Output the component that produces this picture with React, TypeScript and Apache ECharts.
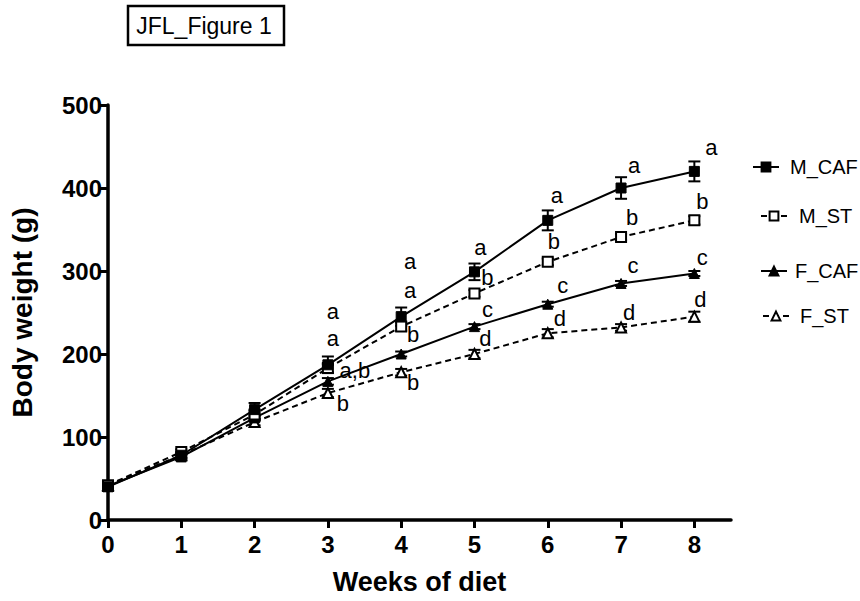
import React, { useEffect, useRef } from "react";
import * as echarts from "echarts";

const weeks = [0, 1, 2, 3, 4, 5, 6, 7, 8];
const yTicks = [0, 100, 200, 300, 400, 500];

const mCaf = [40, 78, 133, 187, 245, 299, 361, 400, 420];
const mSt = [42, 82, 127, 183, 233, 273, 311, 341, 361];
const fCaf = [41, 76, 123, 167, 200, 233, 260, 285, 297];
const fSt = [42, 78, 118, 153, 178, 200, 225, 232, 245];

const mCafSem = [5, 4, 8, 10, 11, 10, 12, 13, 12];
const mStSem = [3, 3, 5, 5, 5, 4, 4, 4, 5];
const fCafSem = [3, 3, 4, 4, 3, 3, 3, 3, 3];
const fStSem = [3, 3, 4, 5, 4, 5, 5, 4, 6];

const mCafLetters = ["", "", "", "a", "a", "a", "a", "a", "a"];
const mStLetters = ["", "", "", "a", "a", "b", "b", "b", "b"];
const fCafLetters = ["", "", "", "a,b", "b", "c", "c", "c", "c"];
const fStLetters = ["", "", "", "b", "b", "d", "d", "d", "d"];

const seriesNames = ["M_CAF", "M_ST", "F_CAF", "F_ST"];
const titleText = "JFL_Figure 1";
const xTitle = "Weeks of diet";
const yTitle = "Body weight (g)";

// label offsets (pixels) relative to each point – styling only
const mCafOff = [[0, 0], [0, 0], [0, 0], [5, -53], [9, -55], [6, -24], [9, -25], [13, -23], [17, -24]];
const mStOff = [[0, 0], [0, 0], [0, 0], [5, -30], [9, -36], [13, -16], [6, -20], [11, -19], [8, -19]];
const fCafOff = [[0, 0], [0, 0], [0, 0], [27, -11], [12, -20], [13, -17], [15, -19], [12, -18], [8, -16]];
const fStOff = [[0, 0], [0, 0], [0, 0], [15, 10], [12, 10], [11, -16], [12, -15], [8, -15], [6, -17]];

const FONT = "'Liberation Sans', Arial, Helvetica, sans-serif";

function lineSeries(
  name: string,
  vals: number[],
  letters: string[],
  offsets: number[][],
  symbol: string,
  filled: boolean,
  dashed: boolean
) {
  return {
    name,
    type: "line",
    z: 3,
    symbol,
    symbolSize: 10,
    showSymbol: true,
    lineStyle: { color: "#000", width: 2, type: dashed ? [6, 4] : "solid" },
    itemStyle: filled
      ? { color: "#000", borderColor: "#000", borderWidth: 1 }
      : { color: "#fff", borderColor: "#000", borderWidth: 2 },
    emphasis: { disabled: true },
    label: {
      show: true,
      position: "inside",
      color: "#000",
      fontFamily: FONT,
      fontSize: 22,
      formatter: (p: any) => letters[p.dataIndex],
    },
    data: weeks.map((w, i) => ({
      value: [w, vals[i]],
      label: { offset: offsets[i] },
    })),
  };
}

function errorSeries(vals: number[], sem: number[]) {
  return {
    type: "custom",
    z: 2,
    silent: true,
    renderItem: (params: any, api: any) => {
      const x = api.value(0);
      const y = api.value(1);
      const e = api.value(2);
      const top = api.coord([x, y + e]);
      const bot = api.coord([x, y - e]);
      const hw = 6;
      const st = { stroke: "#000", lineWidth: 2 };
      return {
        type: "group",
        children: [
          { type: "line", shape: { x1: top[0], y1: top[1], x2: bot[0], y2: bot[1] }, style: st },
          { type: "line", shape: { x1: top[0] - hw, y1: top[1], x2: top[0] + hw, y2: top[1] }, style: st },
          { type: "line", shape: { x1: bot[0] - hw, y1: bot[1], x2: bot[0] + hw, y2: bot[1] }, style: st },
        ],
      };
    },
    data: weeks.map((w, i) => [w, vals[i], sem[i]]),
  };
}

const legendTops = [152, 201, 256, 301];
const legendLefts = [747, 755, 755, 757];
const legendPad = [6, 7, 3, 6];

export default function App() {
  const ref = useRef<HTMLDivElement>(null);
  useEffect(() => {
    if (!ref.current) return;
    const chart = echarts.init(ref.current, null, { renderer: "svg" });
    chart.setOption({
      animation: false,
      backgroundColor: "#fff",
      textStyle: { fontFamily: FONT },
      grid: { left: 106, top: 105, width: 625, height: 415, containLabel: false },
      legend: seriesNames.map((n, i) => ({
        data: [n],
        left: legendLefts[i],
        top: legendTops[i],
        orient: "vertical",
        itemWidth: 26,
        itemHeight: 11,
        selectedMode: false,
        textStyle: { fontFamily: FONT, fontSize: 20, color: "#000", padding: [0, 0, 0, legendPad[i]] },
      })),
      graphic: [
        {
          type: "rect",
          shape: { x: 128, y: 6, width: 156, height: 39 },
          style: { fill: "#fff", stroke: "#000", lineWidth: 2.5 },
        },
        {
          type: "text",
          x: 204,
          y: 26,
          style: {
            text: titleText,
            font: `23px ${FONT}`,
            fill: "#000",
            align: "center",
            verticalAlign: "middle",
          },
        },
      ],
      xAxis: {
        type: "value",
        min: 0,
        max: 8.5,
        interval: 1,
        splitLine: { show: false },
        axisLine: { show: true, onZero: false, lineStyle: { color: "#000", width: 3.5 } },
        axisTick: { show: true, length: 8, lineStyle: { color: "#000", width: 3 }, customValues: weeks },
        axisLabel: {
          customValues: weeks,
          color: "#000",
          fontSize: 24,
          fontWeight: "bold",
          fontFamily: FONT,
          margin: 12,
        },
        name: xTitle,
        nameLocation: "middle",
        nameGap: 48,
        nameTextStyle: { color: "#000", fontSize: 27, fontWeight: "bold", fontFamily: FONT },
      },
      yAxis: {
        type: "value",
        min: 0,
        max: 500,
        interval: 100,
        splitLine: { show: false },
        axisLine: { show: true, onZero: false, lineStyle: { color: "#000", width: 3.5 } },
        axisTick: { show: true, length: 8, lineStyle: { color: "#000", width: 3 } },
        axisLabel: {
          color: "#000",
          fontSize: 24,
          fontWeight: "bold",
          fontFamily: FONT,
          margin: 6,
          formatter: (v: number) => (yTicks.includes(v) ? String(v) : ""),
        },
        name: yTitle,
        nameLocation: "middle",
        nameGap: 72,
        nameTextStyle: { color: "#000", fontSize: 28, fontWeight: "bold", fontFamily: FONT },
      },
      series: [
        errorSeries(mCaf, mCafSem),
        errorSeries(mSt, mStSem),
        errorSeries(fCaf, fCafSem),
        errorSeries(fSt, fStSem),
        lineSeries(seriesNames[3], fSt, fStLetters, fStOff, "triangle", false, true),
        lineSeries(seriesNames[2], fCaf, fCafLetters, fCafOff, "triangle", true, false),
        lineSeries(seriesNames[1], mSt, mStLetters, mStOff, "rect", false, true),
        lineSeries(seriesNames[0], mCaf, mCafLetters, mCafOff, "rect", true, false),
      ],
    });
    return () => chart.dispose();
  }, []);
  return (
    <div
      ref={ref}
      style={{ position: "fixed", left: 0, top: 0, width: 860, height: 601, background: "#fff" }}
    />
  );
}
